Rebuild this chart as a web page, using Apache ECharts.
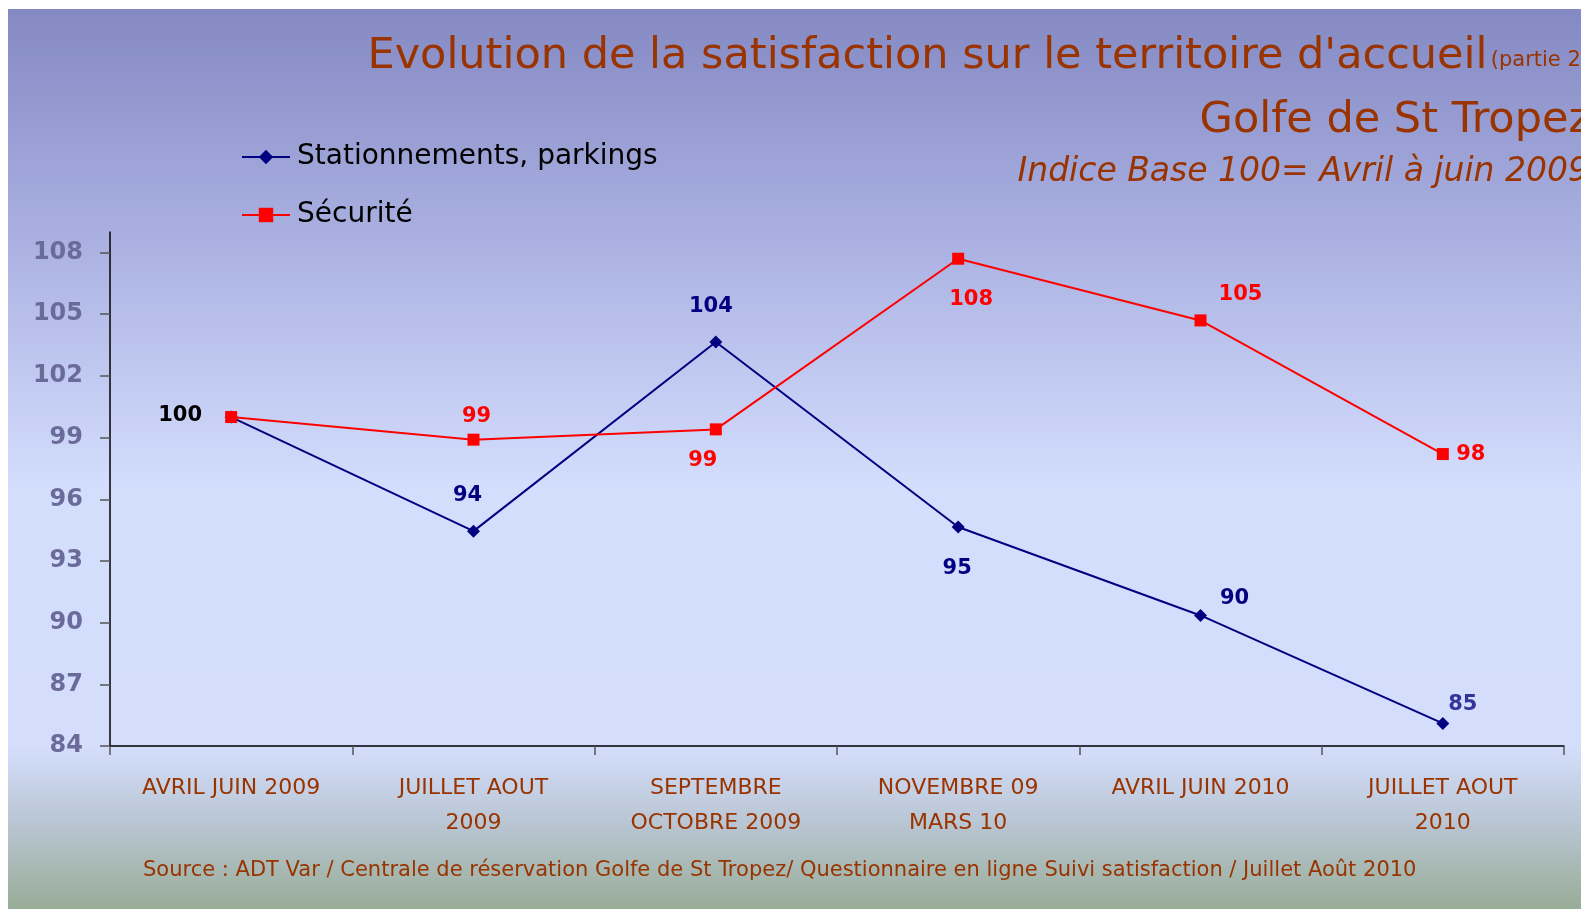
<!DOCTYPE html>
<html>
<head>
<meta charset="utf-8">
<script src="https://cdn.jsdelivr.net/npm/echarts@6/dist/echarts.min.js"></script>
<style>
  html, body { margin: 0; padding: 0; background: #fff; }
  #chart { width: 1581px; height: 909px; }
</style>
</head>
<body>
<div id="chart"></div>
<script>
// periods on the x axis
const categories = [
  'AVRIL JUIN 2009',
  'JUILLET AOUT\n2009',
  'SEPTEMBRE\nOCTOBRE 2009',
  'NOVEMBRE 09\nMARS 10',
  'AVRIL JUIN 2010',
  'JUILLET AOUT\n2010'
]
// index values
const parkings = [100, 94.45, 103.65, 94.65, 90.35, 85.1]
const securite = [100, 98.9, 99.4, 107.7, 104.7, 98.2]
const yTicks = [84, 87, 90, 93, 96, 99, 102, 105, 108]

// label placement (offset from point) and colours
const parkLabelOffsets = [[-51, -1], [-6, -36], [-5, -35], [-1, 42], [34, -17], [20, -19]]
const parkLabelColors = ['#000000', '#000080', '#000080', '#000080', '#000080', '#333399']
const secuLabelOffsets = [null, [3, -23], [-13, 31], [13, 41], [40, -26], [28, 0]]

const FONT = "'Comic Sans MS', 'DejaVu Sans', sans-serif"
const BROWN = '#993300'

function buildData(values, offsets, colors, color) {
  return values.map((v, i) => {
    if (!offsets[i]) return { value: v, label: { show: false } }
    return {
      value: v,
      label: {
        show: true,
        position: 'inside',
        offset: offsets[i],
        color: colors ? colors[i] : color
      }
    }
  })
}

const chart = echarts.init(document.getElementById('chart'))

const option = {
  backgroundColor: '#ffffff',
  animation: false,
  graphic: [
    {
      type: 'rect',
      z: -100,
      shape: { x: 8, y: 9, width: 1573, height: 900 },
      style: {
        fill: new echarts.graphic.LinearGradient(0, 0, 0, 1, [
          { offset: 0, color: '#8489c3' },
          { offset: 0.27, color: '#acb3e3' },
          { offset: 0.53, color: '#d3ddfc' },
          { offset: 0.82, color: '#d4defc' },
          { offset: 0.91, color: '#b7c4d0' },
          { offset: 1, color: '#98ad97' }
        ])
      }
    },
    {
      type: 'text',
      right: -8,
      top: 35,
      style: {
        text: '{a|Evolution de la satisfaction sur le territoire d\'accueil} {b|(partie 2)}',
        fill: BROWN,
        rich: {
          a: { fontFamily: FONT, fontSize: 43, color: BROWN, lineHeight: 52, verticalAlign: 'bottom' },
          b: { fontFamily: FONT, fontSize: 21, color: BROWN, lineHeight: 52, verticalAlign: 'bottom', padding: [0, 0, 7, 0] }
        }
      }
    },
    {
      type: 'text',
      right: -10,
      top: 99,
      style: {
        text: 'Golfe de St Tropez',
        fill: BROWN,
        font: '43px ' + FONT
      }
    },
    {
      type: 'text',
      right: -8,
      top: 156,
      style: {
        text: 'Indice Base 100= Avril à juin 2009',
        fill: BROWN,
        font: 'italic 33px ' + FONT
      }
    },
    {
      type: 'text',
      left: 143,
      top: 860,
      style: {
        text: 'Source : ADT Var / Centrale de réservation Golfe de St Tropez/ Questionnaire en ligne Suivi satisfaction / Juillet Août 2010',
        fill: BROWN,
        font: '21px ' + FONT
      }
    }
  ],
  legend: {
    orient: 'vertical',
    left: 236,
    top: 138,
    itemWidth: 48,
    itemHeight: 18,
    itemGap: 30,
    textStyle: {
      fontFamily: FONT,
      fontSize: 28,
      color: '#000000',
      padding: [0, 0, 0, 2]
    },
    data: ['Stationnements, parkings', 'Sécurité']
  },
  grid: {
    left: 110,
    right: 17,
    top: 232,
    bottom: 163,
    containLabel: false
  },
  xAxis: {
    type: 'category',
    boundaryGap: true,
    data: categories,
    axisLine: { lineStyle: { color: '#000000', width: 1.5 } },
    axisTick: {
      show: true,
      interval: 0,
      alignWithLabel: false,
      length: 9,
      lineStyle: { color: '#555555', width: 1.5 }
    },
    axisLabel: {
      interval: 0,
      margin: 25,
      fontFamily: FONT,
      fontSize: 22,
      lineHeight: 35,
      color: BROWN
    },
    splitLine: { show: false }
  },
  yAxis: {
    type: 'value',
    min: 84,
    max: 109,
    axisLine: { show: true, lineStyle: { color: '#000000', width: 1.5 } },
    axisTick: {
      show: true,
      inside: false,
      length: 10,
      customValues: yTicks,
      lineStyle: { color: '#555555', width: 1.5 }
    },
    axisLabel: {
      margin: 27,
      customValues: yTicks,
      fontFamily: FONT,
      fontSize: 24,
      fontWeight: 'bold',
      color: '#6b6b9b'
    },
    splitLine: { show: false }
  },
  series: [
    {
      name: 'Stationnements, parkings',
      type: 'line',
      symbol: 'diamond',
      symbolSize: 13,
      color: '#000080',
      lineStyle: { color: '#000080', width: 2 },
      itemStyle: { color: '#000080' },
      label: {
        fontFamily: FONT,
        fontSize: 21,
        fontWeight: 'bold',
        formatter: (p) => Math.round(p.value)
      },
      data: buildData(parkings, parkLabelOffsets, parkLabelColors)
    },
    {
      name: 'Sécurité',
      type: 'line',
      symbol: 'rect',
      symbolSize: 12,
      color: '#ff0000',
      lineStyle: { color: '#ff0000', width: 2 },
      itemStyle: { color: '#ff0000' },
      label: {
        fontFamily: FONT,
        fontSize: 21,
        fontWeight: 'bold',
        formatter: (p) => Math.round(p.value)
      },
      data: buildData(securite, secuLabelOffsets, null, '#ff0000')
    }
  ]
}

chart.setOption(option)
</script>
</body>
</html>
